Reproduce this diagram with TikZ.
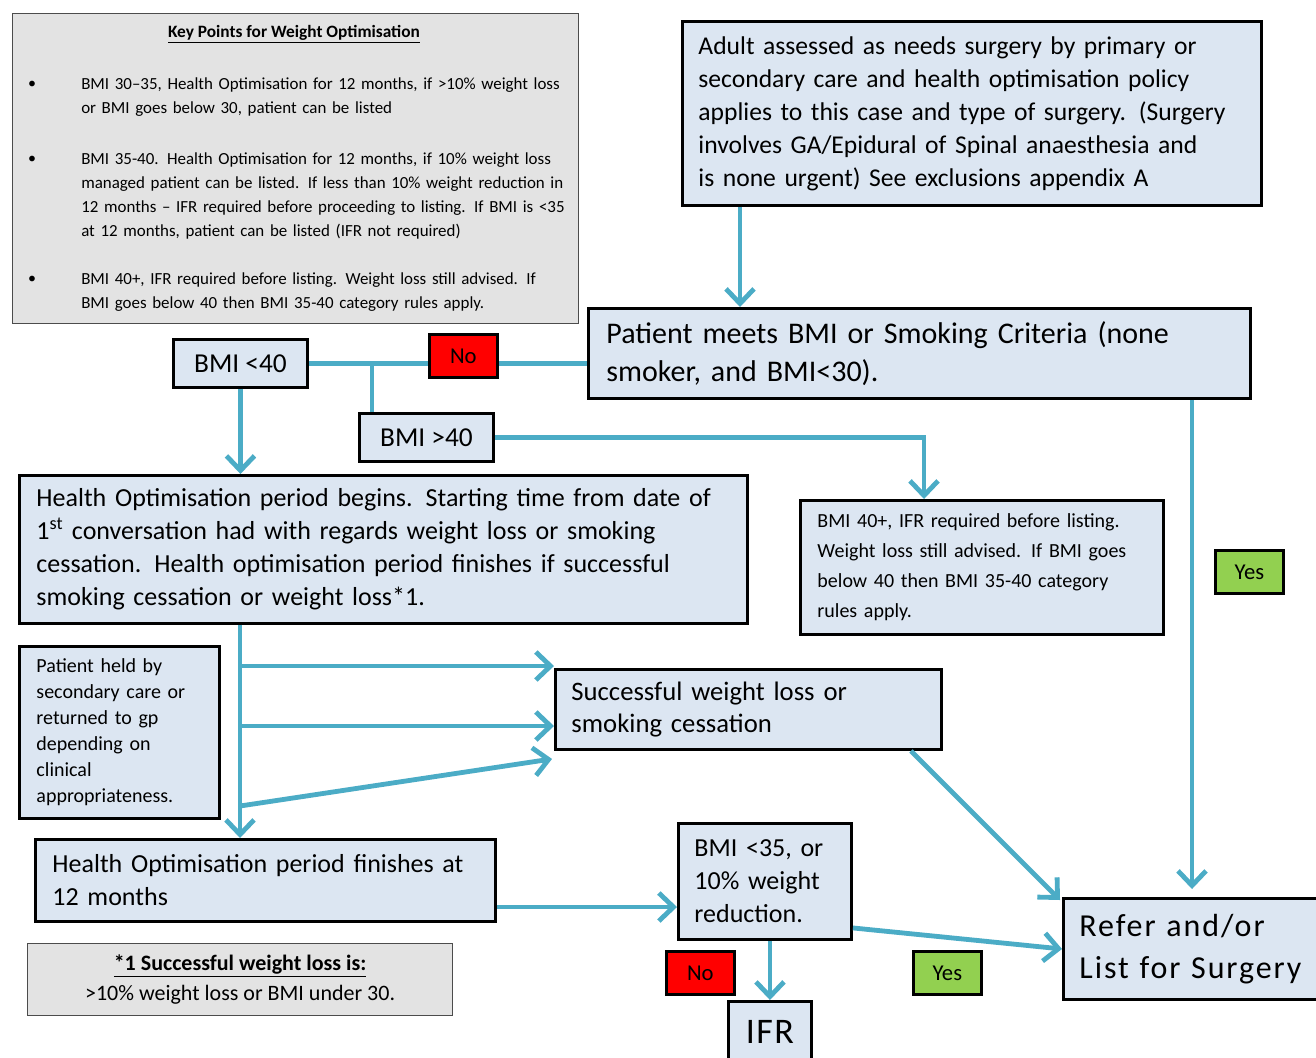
\documentclass[tikz,border=0pt]{standalone}
\usepackage{fontspec}
\setmainfont{Carlito}
\usetikzlibrary{arrows.meta,calc}
\definecolor{boxblue}{HTML}{DCE6F2}
\definecolor{arrowc}{HTML}{4BACC6}
\definecolor{keygray}{HTML}{E3E3E3}
\definecolor{nored}{HTML}{FF0000}
\definecolor{yesgreen}{HTML}{92D050}
\newcommand{\myfs}[2]{\fontsize{#1}{#2}\selectfont}
\begin{document}
\begin{tikzpicture}[x=0.75pt,y=-0.75pt,
  bx/.style={draw=black, line width=2.2pt, fill=boxblue, anchor=north west, inner sep=0pt, align=left},
  graybox/.style={draw=black!70, line width=0.9pt, fill=keygray, anchor=north west, inner sep=0pt},
  keytext/.style={anchor=west, inner sep=0pt, align=left, text width=370pt, font=\myfs{12.7}{18}},
  dot/.style={inner sep=0pt, font=\myfs{12}{14}},
  tag/.style={draw=black, line width=2pt, anchor=north west, minimum width=51pt, minimum height=32.25pt, inner sep=0pt, font=\myfs{17}{19}},
  arr/.style={draw=arrowc, line width=3.6pt, -{Straight Barb[length=11pt,width=21pt]}},
  ln/.style={draw=arrowc, line width=3.6pt},
]
\useasboundingbox (0,0) rectangle (1316,1057);
\fill[white] (0,0) rectangle (1316,1057);

% key points box
\node[graybox, minimum width=424.5pt, minimum height=232.5pt] (key) at (12,13) {};
\node[inner sep=0pt, font=\bfseries\myfs{13}{15}] (keytitle) at (294,34) {\underline{Key Points for Weight Optimisation}};
\node[dot] (d1) at (32,85) {\textbullet};
\node[dot] (d2) at (32,160) {\textbullet};
\node[dot] (d3) at (32,280) {\textbullet};
\node[keytext] (k1) at (81,97) {BMI 30–35, Health Optimisation for 12 months, if >10\% weight loss\\or BMI goes below 30, patient can be listed};
\node[keytext] (k2) at (81,196) {BMI 35-40. Health Optimisation for 12 months, if 10\% weight loss\\managed patient can be listed. If less than 10\% weight reduction in\\12 months – IFR required before proceeding to listing. If BMI is <35\\at 12 months, patient can be listed (IFR not required)};
\node[keytext] (k3) at (81,292) {BMI 40+, IFR required before listing. Weight loss still advised. If\\BMI goes below 40 then BMI 35-40 category rules apply.};

% main boxes
\node[bx, minimum width=434.25pt, minimum height=138pt, text width=410.25pt, font=\myfs{19.2}{24.75}] (adult) at (681,20)
 {Adult assessed as needs surgery by primary or\\secondary care and health optimisation policy\\applies to this case and type of surgery. (Surgery\\involves GA/Epidural of Spinal anaesthesia and\\is none urgent) See exclusions appendix A};
\node[bx, minimum width=496.5pt, minimum height=67.5pt, text width=469.5pt, font=\myfs{22.5}{28.5}] (patient) at (587,307)
 {Patient meets BMI or Smoking Criteria (none\\smoker, and BMI<30).};
\node[bx, minimum width=100.5pt, minimum height=36pt, align=center, font=\myfs{20.5}{22}] (bmilt) at (172,338) {BMI <40};
\node[bx, minimum width=100.5pt, minimum height=36pt, align=center, font=\myfs{20.5}{22}] (bmigt) at (358,412) {BMI >40};
\node[bx, minimum width=546pt, minimum height=111pt, text width=520.5pt, font=\myfs{19.5}{24.75}] (ho) at (18,474)
 {Health Optimisation period begins. Starting time from date of\\1\textsuperscript{st} conversation had with regards weight loss or smoking\\cessation. Health optimisation period finishes if successful\\smoking cessation or weight loss*1.};
\node[bx, minimum width=272.25pt, minimum height=100.5pt, text width=246.75pt, font=\myfs{15}{22.5}] (bmiplus) at (799,499)
 {BMI 40+, IFR required before listing.\\Weight loss still advised. If BMI goes\\below 40 then BMI 35-40 category\\rules apply.};
\node[bx, minimum width=150pt, minimum height=129pt, text width=124.5pt, font=\myfs{15}{19.5}] (held) at (18,645)
 {Patient held by\\secondary care or\\returned to gp\\depending on\\clinical\\appropriateness.};
\node[bx, minimum width=289.5pt, minimum height=60pt, text width=265.5pt, font=\myfs{20}{24}] (succ) at (554,668)
 {Successful weight loss or\\smoking cessation};
\node[bx, minimum width=345pt, minimum height=61.5pt, text width=319.5pt, font=\myfs{19.5}{24.75}] (hof) at (34,838)
 {Health Optimisation period finishes at\\12 months};
\node[bx, minimum width=129.75pt, minimum height=87pt, text width=105.75pt, font=\myfs{19.5}{24.75}] (bmi35) at (677,822)
 {BMI <35, or\\10\% weight\\reduction.};
\node[bx, minimum width=62.25pt, minimum height=45pt, align=center, font=\myfs{27}{30}\addfontfeatures{LetterSpace=4}] (ifr) at (727,1000) {IFR};
\node[bx, minimum width=217.5pt, minimum height=75.75pt, text width=193.5pt, font=\myfs{24}{32}\addfontfeatures{LetterSpace=6}] (refer) at (1062,897)
 {Refer and/or\\List for Surgery};

% footnote box
\node[graybox, minimum width=318.75pt, minimum height=54pt, align=center, font=\myfs{16.5}{22.5}] (foot) at (27,943)
 {\textbf{\underline{*1 Successful weight loss is:}}\\>10\% weight loss or BMI under 30.};

% connectors
\coordinate (cx1) at (740,0);
\coordinate (cx2) at (372,0);
\coordinate (cx3) at (924,0);
\coordinate (cx4) at (240,0);
\coordinate (cx5) at (1192,0);
\coordinate (cy1) at (0,907);
\coordinate (b1) at (240,666);
\coordinate (b2) at (240,726);
\coordinate (b3) at (240,806);

\draw[arr] (adult.south -| cx1) -- (patient.north -| cx1);
\draw[ln] (bmilt.east) -- (bmilt.east -| patient.west);
\draw[ln] (bmilt.east -| cx2) -- (bmigt.north -| cx2);
\draw[arr] (bmigt.east) -| (bmiplus.north -| cx3);
\draw[arr] (bmilt.south) -- (ho.north -| bmilt.south);
\draw[arr] (patient.south -| cx5) -- ($(refer.north -| cx5)+(0,-8)$);
\draw[arr] (ho.south -| cx4) -- (hof.north -| cx4);
\draw[arr] (b1) -- (b1 -| succ.west);
\draw[arr] (b2) -- (b2 -| succ.west);
\draw[arr] (b3) -- ($(succ.south west)+(-2,8)$);
\draw[arr] ($(succ.south east)+(-32,0)$) -- ($(refer.north west)+(-2,3)$);
\draw[arr] (hof.east |- cy1) -- (bmi35.west |- cy1);
\draw[arr] (bmi35.south -| ifr.north) -- (ifr.north);
\draw[arr] ($(bmi35.south east)+(0,-13)$) -- (refer.west);

% yes / no tags
\node[tag, fill=nored] (no1) at (428,333) {No};
\node[tag, fill=nored] (no2) at (665,950) {No};
\node[tag, fill=yesgreen] (yes1) at (1214,549) {Yes};
\node[tag, fill=yesgreen] (yes2) at (912,950) {Yes};
\end{tikzpicture}
\end{document}
